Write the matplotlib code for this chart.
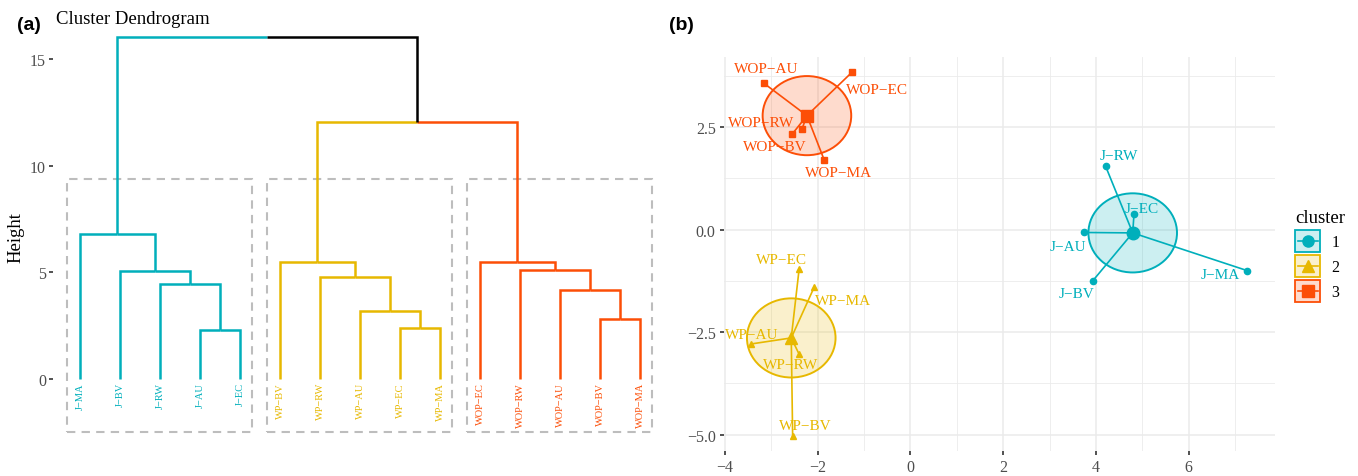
import matplotlib
matplotlib.use('Agg')
import matplotlib.pyplot as plt
import numpy as np
from matplotlib.patches import Rectangle, Ellipse, Patch
from matplotlib.lines import Line2D
from matplotlib.colors import to_rgba

plt.rcParams['font.family'] = ['Liberation Serif', 'DejaVu Serif']

cluster_colors = {1: '#00AFBB', 2: '#E7B800', 3: '#FC4E07'}
cluster_markers = {1: 'o', 2: '^', 3: 's'}

# ---- (a) dendrogram data
leaf_labels = ['J−MA', 'J−BV', 'J−RW', 'J−AU', 'J−EC',
               'WP−BV', 'WP−RW', 'WP−AU', 'WP−EC', 'WP−MA',
               'WOP−EC', 'WOP−RW', 'WOP−AU', 'WOP−BV', 'WOP−MA']
leaf_cluster = [1] * 5 + [2] * 5 + [3] * 5
# merges: node ids 0..14 are leaves, each merge creates the next id
merge_left = [3, 2, 1, 0, 8, 7, 6, 5, 13, 12, 11, 10, 22, 18]
merge_right = [4, 15, 16, 17, 9, 19, 20, 21, 14, 23, 24, 25, 26, 27]
merge_height = [2.30, 4.45, 5.08, 6.80, 2.37, 3.20, 4.80, 5.47,
                2.81, 4.19, 5.11, 5.47, 12.03, 16.02]

# ---- (b) cluster plot data
pt_labels = ['J−AU', 'J−BV', 'J−EC', 'J−MA', 'J−RW',
             'WP−AU', 'WP−BV', 'WP−EC', 'WP−MA', 'WP−RW',
             'WOP−AU', 'WOP−BV', 'WOP−EC', 'WOP−MA', 'WOP−RW']
pt_x = [3.74, 3.93, 4.82, 7.26, 4.21,
        -3.44, -2.54, -2.40, -2.07, -2.40,
        -3.16, -2.55, -1.25, -1.86, -2.34]
pt_y = [-0.07, -1.25, 0.38, -1.00, 1.54,
        -2.79, -5.03, -0.96, -1.39, -3.04,
        3.57, 2.33, 3.85, 1.70, 2.45]
pt_cluster = [1] * 5 + [2] * 5 + [3] * 5
# repelled label offsets (data units)
label_dx = [-0.35, -0.35, 0.16, -0.59, 0.29,
            0.02, 0.27, -0.38, 0.62, -0.18,
            0.04, -0.37, 0.52, 0.30, -0.87]
label_dy = [-0.34, -0.30, 0.14, -0.09, 0.26,
            0.24, 0.24, 0.24, -0.33, -0.24,
            0.36, -0.30, -0.44, -0.30, 0.16]
ellipse_w = 1.91
ellipse_h = 1.93

W, H = 1358, 477
fig = plt.figure(figsize=(W / 100, H / 100), dpi=100)


def px_axes(left, top, right, bottom):
    return fig.add_axes([left / W, 1 - bottom / H, (right - left) / W, (bottom - top) / H])


class KeyHandler:
    """ggplot-like legend key: filled box, line through it and a marker in the middle."""

    def __init__(self, color, marker):
        self.color = color
        self.marker = marker

    def legend_artist(self, legend, orig_handle, fontsize, handlebox):
        x0, y0 = -handlebox.xdescent, -handlebox.ydescent
        w, h = handlebox.width, handlebox.height
        tr = handlebox.get_transform()
        box = Rectangle((x0, y0), w, h, fc=to_rgba(self.color, 0.2), ec=self.color,
                        lw=1.3, transform=tr)
        line = Line2D([x0 + 2, x0 + w - 2], [y0 + h / 2] * 2, color=self.color, lw=1.2,
                      transform=tr)
        mk = Line2D([x0 + w / 2], [y0 + h / 2], ls='none', marker=self.marker, ms=8,
                    color=self.color, transform=tr)
        for a in (box, line, mk):
            handlebox.add_artist(a)
        return box


# ================= (a)
ax1 = px_axes(53, 30, 655, 445)
n = len(leaf_labels)
node_x = list(range(1, n + 1))
node_h = [0.0] * n
node_col = [cluster_colors[c] for c in leaf_cluster]
for l, r, h in zip(merge_left, merge_right, merge_height):
    px = (node_x[l] + node_x[r]) / 2
    for child in (l, r):
        ax1.plot([node_x[child], node_x[child], px], [node_h[child], h, h],
                 color=node_col[child], lw=1.8, solid_joinstyle='miter',
                 solid_capstyle='butt')
    node_x.append(px)
    node_h.append(h)
    node_col.append(node_col[l] if node_col[l] == node_col[r] else 'black')

for i, (lab, c) in enumerate(zip(leaf_labels, leaf_cluster)):
    ax1.text(i + 1, -0.15, lab, rotation=90, ha='center', va='top',
             fontsize=7.5, color=cluster_colors[c])

for c in sorted(set(leaf_cluster)):
    xs = [i + 1 for i, k in enumerate(leaf_cluster) if k == c]
    ax1.add_patch(Rectangle((min(xs) - 0.33, -2.48), max(xs) - min(xs) + 0.64, 9.38 + 2.48,
                            fill=False, ec='#BDBDBD', lw=1.5, ls=(0, (4, 3))))

ax1.set_xlim(0.325, 15.375)
ax1.set_ylim(-3.05, 16.41)
for s in ax1.spines.values():
    s.set_visible(False)
ax1.set_xticks([])
ax1.set_yticks([0, 5, 10, 15])
ax1.tick_params(axis='y', length=3, width=1.2, color='#333333', labelcolor='#4D4D4D',
                labelsize=11.5, pad=2)
ax1.set_ylabel('Height', fontsize=13.5, labelpad=4)

fig.text(56 / W, 1 - 20 / H, 'Cluster Dendrogram', fontsize=13.5, va='center', ha='left')
fig.text(17 / W, 1 - 25 / H, '(a)', fontsize=14, fontweight='bold', family='Liberation Sans',
         va='center', ha='left')
fig.text(669 / W, 1 - 25 / H, '(b)', fontsize=14, fontweight='bold', family='Liberation Sans',
         va='center', ha='left')

# ================= (b)
ax2 = px_axes(724, 58, 1275, 452)
pt_x = np.array(pt_x)
pt_y = np.array(pt_y)
pt_cluster = np.array(pt_cluster)

for c in sorted(cluster_colors):
    col = cluster_colors[c]
    m = pt_cluster == c
    cx, cy = pt_x[m].mean(), pt_y[m].mean()
    ax2.add_patch(Ellipse((cx, cy), ellipse_w, ellipse_h, fc=to_rgba(col, 0.2), ec=col,
                          lw=1.4, zorder=2))
    for x, y in zip(pt_x[m], pt_y[m]):
        ax2.plot([cx, x], [cy, y], color=col, lw=1.2, zorder=3)
    ax2.plot(pt_x[m], pt_y[m], ls='none', marker=cluster_markers[c], ms=4.5, color=col, zorder=4)
    ax2.plot([cx], [cy], ls='none', marker=cluster_markers[c], ms=9, color=col, zorder=5)

for lab, x, y, dx, dy, c in zip(pt_labels, pt_x, pt_y, label_dx, label_dy, pt_cluster):
    ax2.text(x + dx, y + dy, lab, fontsize=11, color=cluster_colors[c],
             ha='center', va='center', zorder=6)

ax2.set_xlim(-4.02, 7.86)
ax2.set_ylim(-5.40, 4.21)
ax2.set_xticks([-4, -2, 0, 2, 4, 6])
ax2.set_yticks([-5, -2.5, 0, 2.5])
ax2.set_yticklabels(['−5.0', '−2.5', '0.0', '2.5'])
ax2.set_xticks([-3, -1, 1, 3, 5, 7], minor=True)
ax2.set_yticks([-3.75, -1.25, 1.25, 3.75], minor=True)
ax2.grid(True, which='major', color='#EBEBEB', lw=1.1)
ax2.grid(True, which='minor', color='#EBEBEB', lw=0.6)
ax2.set_axisbelow(True)
for s in ax2.spines.values():
    s.set_visible(False)
ax2.tick_params(which='major', length=3, width=1.2, color='#333333', labelcolor='#4D4D4D',
                labelsize=11.5, pad=3)
ax2.tick_params(which='minor', length=0)

handles = [Patch(label=str(c)) for c in sorted(cluster_colors)]
hmap = {h: KeyHandler(cluster_colors[c], cluster_markers[c])
        for h, c in zip(handles, sorted(cluster_colors))}
leg = fig.legend(handles=handles, title='cluster', loc='upper left',
                 bbox_to_anchor=(1281 / W, 1 - 196 / H), frameon=False, fontsize=11.5,
                 title_fontsize=13.5, handlelength=1.56, handleheight=1.74, labelspacing=0.2,
                 handletextpad=0.7, alignment='left', handler_map=hmap)

fig.savefig('out.png', dpi=100)
